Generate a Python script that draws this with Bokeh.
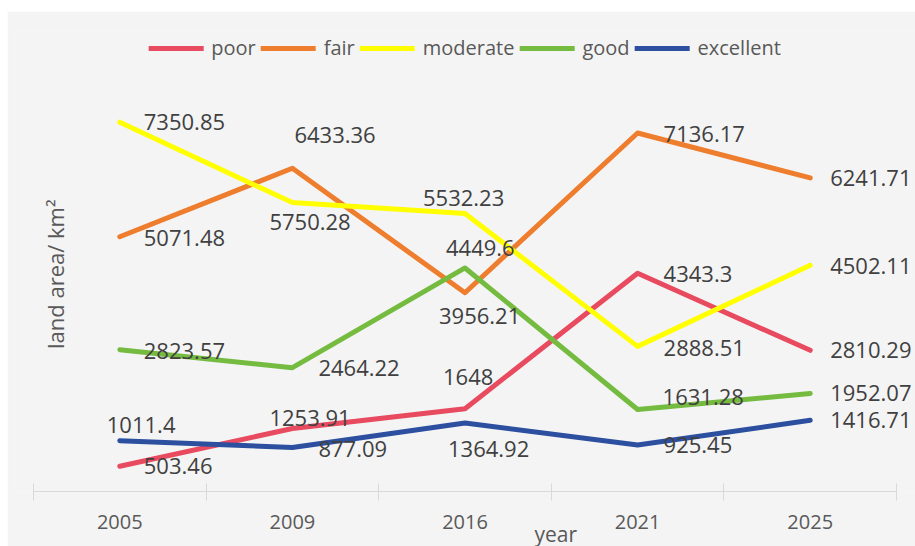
import math
from bokeh.plotting import figure
from bokeh.models import (ColumnDataSource, Range1d, FactorRange, LinearAxis,
                          FixedTicker, Legend, LegendItem, Label, Title)
from bokeh.core.properties import value
from bokeh.embed import file_html
from bokeh.resources import INLINE

# ---- data ----
years = ["2005", "2009", "2016", "2021", "2025"]
series_names = ["poor", "fair", "moderate", "good", "excellent"]
poor = [503.46, 1253.91, 1648, 4343.3, 2810.29]
fair = [5071.48, 6433.36, 3956.21, 7136.17, 6241.71]
moderate = [7350.85, 5750.28, 5532.23, 2888.51, 4502.11]
good = [2823.57, 2464.22, 4449.6, 1631.28, 1952.07]
excellent = [1011.4, 877.09, 1364.92, 925.45, 1416.71]
series_values = [poor, fair, moderate, good, excellent]

# ---- styles ----
colors = ["#E84A5F", "#EE7D2E", "#FFFF00", "#74BB40", "#2D4F9F"]
# label offsets (screen px) of left edge / vertical centre from each point
label_dx = {
    "poor":      [24, -23, -22, 26, 20],
    "fair":      [24, 2, -26, 26, 20],
    "moderate":  [24, -23, -42, 26, 20],
    "good":      [24, 26, -19, 25, 20],
    "excellent": [-13, 26, -17, 26, 20],
}
label_dy = {
    "poor":      [0, -11, -32, 1, 0],
    "fair":      [1, -33, 23, 1, 0],
    "moderate":  [0, 19, -16, 2, 1],
    "good":      [1, 0, -20, -13, 0],
    "excellent": [-16, 2, 26, 0, 0],
}
FONT = "Open Sans"
YMAX = 9176
n = len(years)

x_range = FactorRange(factors=years, range_padding=0.11,
                      range_padding_units="absolute")
p = figure(width=908, height=535, x_range=x_range, y_range=Range1d(0, YMAX),
           output_backend="svg", toolbar_location=None,
           x_axis_location=None, y_axis_location=None,
           min_border_left=7, min_border_right=0,
           min_border_top=19, min_border_bottom=55,
           background_fill_color="#F4F4F4", border_fill_color="#F4F4F4",
           outline_line_color=None, margin=(11, 0, 0, 7))
p.xgrid.visible = False
p.ygrid.visible = False

# x axis: labels at category centres, tick marks at category boundaries
# (synthetic categorical coordinates: factor i spans [i, i+1])
ax = LinearAxis(ticker=FixedTicker(ticks=[i + 0.5 for i in range(n)],
                                   minor_ticks=list(range(n + 1))),
                major_label_overrides={i + 0.5: yr for i, yr in enumerate(years)},
                bounds=(0, n))
ax.major_tick_line_color = None
ax.major_tick_in = 0
ax.major_tick_out = 0
ax.minor_tick_in = 8
ax.minor_tick_out = 9
ax.minor_tick_line_color = "#D9D9D9"
ax.minor_tick_line_width = 1
ax.axis_line_color = "#D9D9D9"
ax.axis_line_width = 1
ax.major_label_text_font = FONT
ax.major_label_text_font_size = "20px"
ax.major_label_text_color = "#595959"
ax.major_label_standoff = 14
p.add_layout(ax, "below")

p.add_layout(Title(text="year", align="left", offset=520, standoff=-28,
                   text_font=FONT, text_font_size="21px",
                   text_font_style="normal", text_color="#595959"), "below")

items = []
for name, vals, col in zip(series_names, series_values, colors):
    r = p.line(years, vals, line_color=col, line_width=5,
               line_join="round", line_cap="round")
    items.append(LegendItem(label=name, renderers=[r]))

# data labels
lx, ly, lt, ldx, ldy = [], [], [], [], []
for name, vals in zip(series_names, series_values):
    for i, (yr, v) in enumerate(zip(years, vals)):
        lx.append(yr)
        ly.append(v)
        lt.append(("%.2f" % v).rstrip("0").rstrip("."))
        ldx.append(label_dx[name][i])
        ldy.append(label_dy[name][i])
src = ColumnDataSource(dict(x=lx, y=ly, t=lt, dx=ldx, dy=ldy))
p.text(x="x", y="y", text="t", x_offset="dx", y_offset="dy", source=src,
       text_font=value(FONT), text_font_size="22px", text_color="#404040",
       text_align="left", text_baseline="middle")

legend = Legend(items=items, orientation="horizontal", location="top_center",
                glyph_width=55, glyph_height=20, label_standoff=8, spacing=5,
                padding=5, margin=4, border_line_color=None,
                background_fill_alpha=0, label_text_font=FONT,
                label_text_font_size="20px", label_text_color="#595959")
p.add_layout(legend)

p.add_layout(Label(x=0.127, y=4325, text="land area/ km²", angle=math.pi / 2,
                   text_align="center", text_baseline="middle",
                   text_font=FONT, text_font_size="22px", text_color="#595959"))

open("out.html", "w").write(file_html(p, INLINE))
